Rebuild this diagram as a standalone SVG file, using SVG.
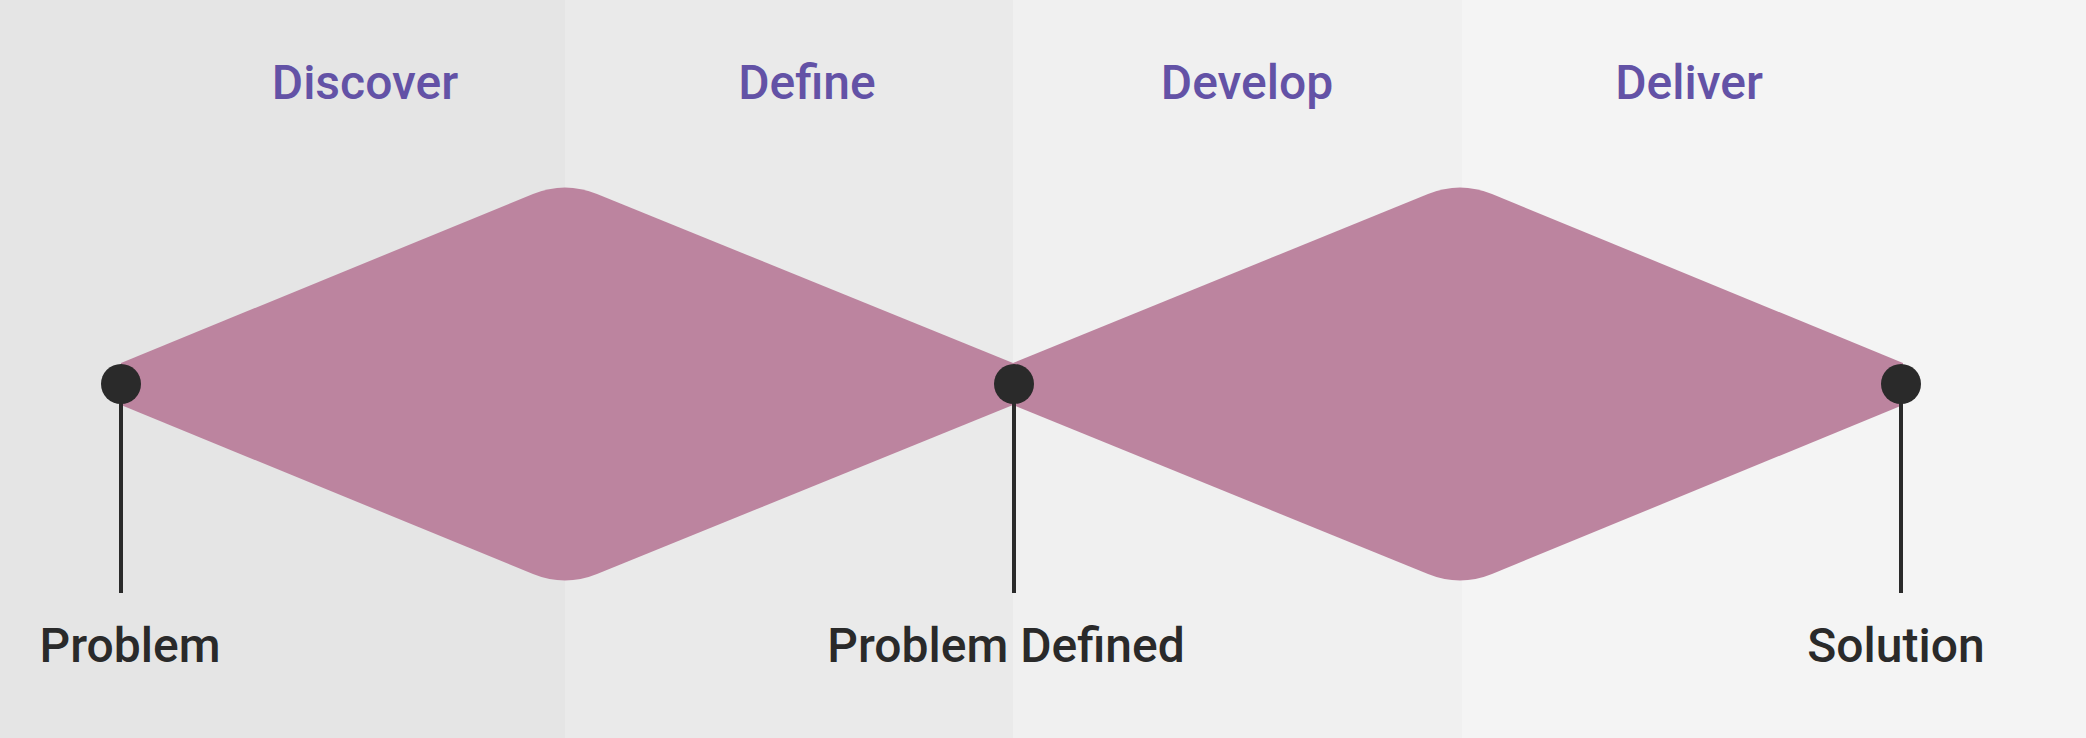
<svg xmlns="http://www.w3.org/2000/svg" width="2086" height="738" viewBox="0 0 2086 738">
<style>
.phase{font-family:Roboto,"Liberation Sans",sans-serif;font-weight:500;font-size:48px;fill:#6352a6;text-anchor:middle}
.lbl{font-family:Roboto,"Liberation Sans",sans-serif;font-weight:500;font-size:48px;fill:#2a2a2a;text-anchor:middle}
.dia{fill:#bc849f}
.dot{fill:#2a2a2a}
.stem{stroke:#2a2a2a;stroke-width:4;fill:none}
</style>
<g id="background">
<rect x="0" y="0" width="565" height="738" fill="#e5e5e5"/>
<rect x="565" y="0" width="448" height="738" fill="#eaeaea"/>
<rect x="1013" y="0" width="449" height="738" fill="#f0f0f0"/>
<rect x="1462" y="0" width="624" height="738" fill="#f4f4f4"/>
</g>
<g id="phases">
<text class="phase" x="365" y="99">Discover</text>
<text class="phase" x="807" y="99">Define</text>
<text class="phase" x="1247" y="99">Develop</text>
<text class="phase" x="1689" y="99">Deliver</text>
</g>
<g id="diamond-1">
<path class="dia" d="M121,363 L533,194 Q565,181 597,194 L1013,363 L1013,405 L597,574 Q565,587 533,574 L121,405 Z"/>
</g>
<g id="diamond-2">
<path class="dia" d="M1013,363 L1428,194 Q1460,181 1492,194 L1903,363 L1903,405 L1492,574 Q1460,587 1428,574 L1013,405 Z"/>
</g>
<g id="connectors">
<line class="stem" x1="121" y1="384" x2="121" y2="593"/>
<line class="stem" x1="1014" y1="384" x2="1014" y2="593"/>
<line class="stem" x1="1901" y1="384" x2="1901" y2="593"/>
</g>
<g id="node-problem">
<circle class="dot" cx="121" cy="384" r="20"/>
<text class="lbl" x="130" y="662">Problem</text>
</g>
<g id="node-problem-defined">
<circle class="dot" cx="1014" cy="384" r="20"/>
<text class="lbl" x="1006" y="662">Problem Defined</text>
</g>
<g id="node-solution">
<circle class="dot" cx="1901" cy="384" r="20"/>
<text class="lbl" x="1896" y="662">Solution</text>
</g>
</svg>
